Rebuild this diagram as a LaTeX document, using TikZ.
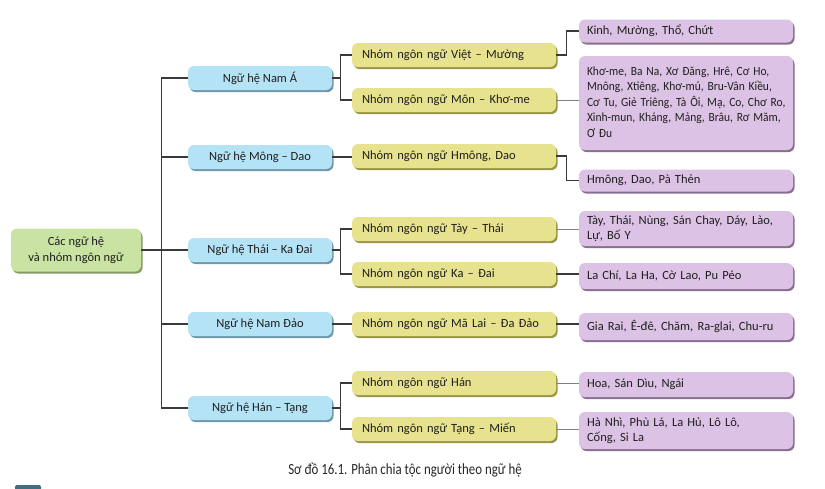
\documentclass[tikz,border=0pt]{standalone}
\usepackage{fontspec}
\setmainfont{Carlito}
\usetikzlibrary{shadows,calc}
\definecolor{bluef}{HTML}{B5E3F6}
\definecolor{blues}{HTML}{6F98AC}
\definecolor{greenf}{HTML}{C9E4A2}
\definecolor{greens}{HTML}{849C62}
\definecolor{yellowf}{HTML}{E6E28E}
\definecolor{yellows}{HTML}{9A9545}
\definecolor{purplef}{HTML}{DCC2E4}
\definecolor{purples}{HTML}{8A6E92}
\definecolor{linec}{HTML}{3A3A3A}
\definecolor{tealc}{HTML}{3F6E80}
\tikzset{
  box/.style={rounded corners=6pt, inner ysep=0pt, font=\fontsize{12.5}{15.5}\selectfont, text=black!88},
  rootbox/.style={box, fill=greenf, drop shadow={shadow xshift=1.5pt, shadow yshift=-2pt, fill=greens, opacity=1},
    minimum width=130pt, minimum height=43pt, align=center, inner xsep=0pt},
  fambox/.style={box, fill=bluef, drop shadow={shadow xshift=1.5pt, shadow yshift=-2pt, fill=blues, opacity=1},
    minimum width=144pt, minimum height=24pt, align=center, inner xsep=0pt},
  grpbox/.style={box, fill=yellowf, drop shadow={shadow xshift=1.5pt, shadow yshift=-2pt, fill=yellows, opacity=1},
    minimum height=24pt, inner xsep=10pt, text width=184pt, align=left},
  ethbox/.style={box, fill=purplef, drop shadow={shadow xshift=1.5pt, shadow yshift=-2pt, fill=purples, opacity=1},
    inner xsep=8pt, text width=198pt, align=left},
  conn/.style={draw=linec, line width=1.1pt},
}
\begin{document}
\begin{tikzpicture}[x=1pt, y=-1pt]
\useasboundingbox (0,0) rectangle (825,488);
% root
\node[rootbox] (root) at (76,250) {Các ngữ hệ\\và nhóm ngôn ngữ};
% families
\node[fambox] (f1) at (260,78) {Ngữ hệ Nam Á};
\node[fambox] (f2) at (260,157) {Ngữ hệ Mông -- Dao};
\node[fambox] (f3) at (260,250) {Ngữ hệ Thái -- Ka Đai};
\node[fambox] (f4) at (260,324) {Ngữ hệ Nam Đảo};
\node[fambox] (f5) at (260,408) {Ngữ hệ Hán -- Tạng};
% groups
\node[grpbox] (g1) at (454,55) {Nhóm ngôn ngữ Việt -- Mường};
\node[grpbox] (g2) at (454,100) {Nhóm ngôn ngữ Môn -- Khơ-me};
\node[grpbox] (g3) at (454,156) {Nhóm ngôn ngữ Hmông, Dao};
\node[grpbox] (g4) at (454,229) {Nhóm ngôn ngữ Tày -- Thái};
\node[grpbox] (g5) at (454,274) {Nhóm ngôn ngữ Ka -- Đai};
\node[grpbox] (g6) at (454,324) {Nhóm ngôn ngữ Mã Lai -- Đa Đảo};
\node[grpbox] (g7) at (454,383) {Nhóm ngôn ngữ Hán};
\node[grpbox] (g8) at (454,429) {Nhóm ngôn ngữ Tạng -- Miến};
% ethnic groups
\node[ethbox, minimum height=23pt] (e1) at (686,31) {Kinh, Mường, Thổ, Chứt};
\node[ethbox, minimum height=94pt] (e2) at (686,103) {\scalebox{0.92}[1]{\begin{tabular}{@{}l@{}}Khơ-me, Ba Na, Xơ Đăng, Hrê, Cơ Ho,\\Mnông, Xtiêng, Khơ-mú, Bru-Vân Kiều,\\Cơ Tu, Giẻ Triêng, Tà Ôi, Mạ, Co, Chơ Ro,\\Xinh-mun, Kháng, Mảng, Brâu, Rơ Măm,\\Ơ Đu\end{tabular}}};
\node[ethbox, minimum height=22pt] (e3) at (686,180.5) {Hmông, Dao, Pà Thẻn};
\node[ethbox, minimum height=35pt] (e4) at (686,228.5) {Tày, Thái, Nùng, Sán Chay, Dáy, Lào,\\Lự, Bố Y};
\node[ethbox, minimum height=26pt] (e5) at (686,276) {La Chí, La Ha, Cờ Lao, Pu Péo};
\node[ethbox, minimum height=27pt] (e6) at (686,326.5) {Gia Rai, Ê-đê, Chăm, Ra-glai, Chu-ru};
\node[ethbox, minimum height=25pt] (e7) at (686,384.5) {Hoa, Sán Dìu, Ngái};
\node[ethbox, minimum height=37pt] (e8) at (686,430.5) {Hà Nhì, Phù Lá, La Hủ, Lô Lô,\\Cống, Si La};
% trunk
\coordinate (tr) at (162,250);
\draw[conn] (root.east) -- (tr);
\draw[conn] (f1.west) -- ++(-26,0) |- (f5.west);
\foreach \f in {f2,f3,f4} \draw[conn] (\f.west) -- (tr |- \f.west);
% families to groups
\draw[conn] (f1.east) -- ++(8,0) coordinate (b1);
\draw[conn] (b1) |- (g1.west);
\draw[conn] (b1) |- (g2.west);
\draw[conn] (f2.east) -- (g2.west |- f2.east);
\draw[conn] (f3.east) -- ++(8,0) coordinate (b3);
\draw[conn] (b3) |- (g4.west);
\draw[conn] (b3) |- (g5.west);
\draw[conn] (f4.east) -- (g6.west |- f4.east);
\draw[conn] (f5.east) -- ++(8,0) coordinate (b5);
\draw[conn] (b5) |- (g7.west);
\draw[conn] (b5) |- (g8.west);
% groups to ethnic groups
\draw[conn] (g1.east) -- ++(10,0) |- (e1.west);
\draw[conn, line width=0.8pt, draw=gray] (g2.east) -- (e2.west |- g2.east);
\draw[conn] (g3.east) -- ++(10,0) |- (e3.west);
\draw[conn, line width=0.8pt, draw=gray] (g4.east) -- (e4.west |- g4.east);
\draw[conn] (g5.east) -- (e5.west |- g5.east);
\draw[conn] (g6.east) -- (e6.west |- g6.east);
\draw[conn, line width=0.8pt, draw=gray] (g7.east) -- (e7.west |- g7.east);
\draw[conn, line width=0.8pt, draw=gray] (g8.east) -- (e8.west |- g8.east);
% caption
\node[text=black!85] (cap) at (405,470) {\fontsize{15.5}{17}\selectfont\scalebox{0.83}[1]{Sơ đồ 16.1. Phân chia tộc người theo ngữ hệ}};
% partial element at bottom left
\fill[tealc, rounded corners=2pt] (15,485) rectangle (41,495);
\end{tikzpicture}
\end{document}
